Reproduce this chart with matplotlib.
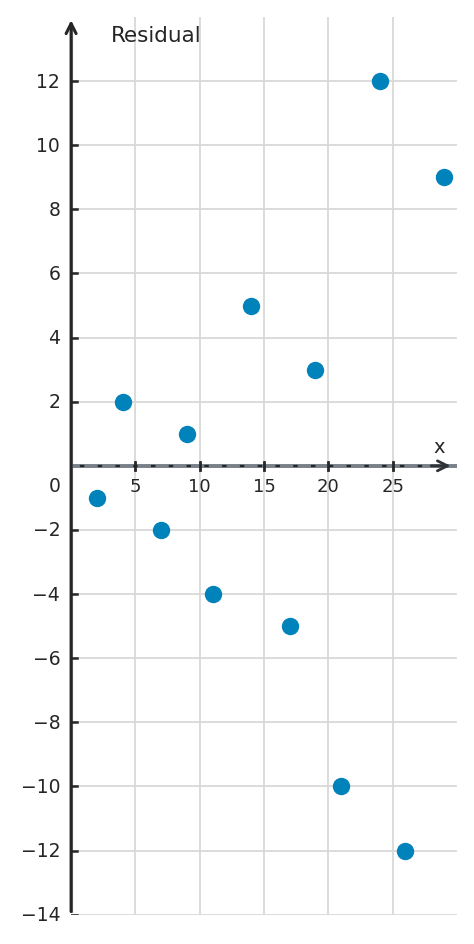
import numpy as np
import matplotlib.pyplot as plt


x = np.array([2, 4, 7, 9, 11, 14, 17, 19, 21, 24, 26, 29])
residual = np.array([-1, 2, -2, 1, -4, 5, -5, 3, -10, 12, -12, 9])

x_ticks = [5, 10, 15, 20, 25]
y_ticks = [-14, -12, -10, -8, -6, -4, -2, 2, 4, 6, 8, 10, 12]

fig = plt.figure(figsize=(4.74, 9.45), dpi=100)
ax = fig.add_axes([0.150, 0.031, 0.814, 0.950])
ax.set_xlim(0, 30)
ax.set_ylim(-14, 14)

# grid
for xv in x_ticks:
    ax.axvline(xv, color='#d9d9d9', lw=1.3, zorder=0)
for yv in y_ticks:
    ax.axhline(yv, color='#d9d9d9', lw=1.3, zorder=0)

for s in ax.spines.values():
    s.set_visible(False)
ax.set_xticks([])
ax.set_yticks([])

dark = '#262626'

# y axis with arrow
ax.plot([0, 0], [-13.9, 13.7], color='#9a9a9a', lw=3.0, zorder=2)
ax.annotate('', xy=(0, 13.9), xytext=(0, -13.9),
            arrowprops=dict(arrowstyle='->', color=dark, lw=2.2, mutation_scale=18,
                            shrinkA=0, shrinkB=0),
            zorder=3)
# x axis: grey band, dashed line and arrow head
ax.plot([0, 30], [0, 0], color='#78808a', lw=2.8, zorder=2)
ax.plot([0, 29.3], [0, 0], color=dark, lw=1.6, ls=(4, (2, 6)), zorder=3)
ax.annotate('', xy=(29.5, 0), xytext=(28.0, 0),
            arrowprops=dict(arrowstyle='->', color='#2e3338', lw=2, mutation_scale=18,
                            shrinkA=0, shrinkB=0),
            zorder=3)

# ticks
for xv in x_ticks:
    ax.plot([xv, xv], [-0.13, 0.13], color=dark, lw=2, zorder=4)
    ax.text(xv, -0.62, str(xv), ha='center', va='center', fontsize=13, color=dark)
for yv in y_ticks:
    ax.plot([0, 0.45], [yv, yv], color=dark, lw=1.8, zorder=4)
    ax.text(-0.85, yv, str(yv).replace('-', '\u2212'), ha='right', va='center',
            fontsize=13.5, color=dark)
ax.text(-0.85, -0.62, '0', ha='right', va='center', fontsize=13.5, color=dark)

ax.text(3.1, 13.45, 'Residual', ha='left', va='center', fontsize=15.5, color=dark)
ax.text(28.6, 0.6, 'x', ha='center', va='center', fontsize=14, color=dark)

ax.plot(x, residual, 'o', color='#0082ba', markersize=11.5, zorder=5,
        clip_on=False)

fig.savefig('out.png', dpi=100)
